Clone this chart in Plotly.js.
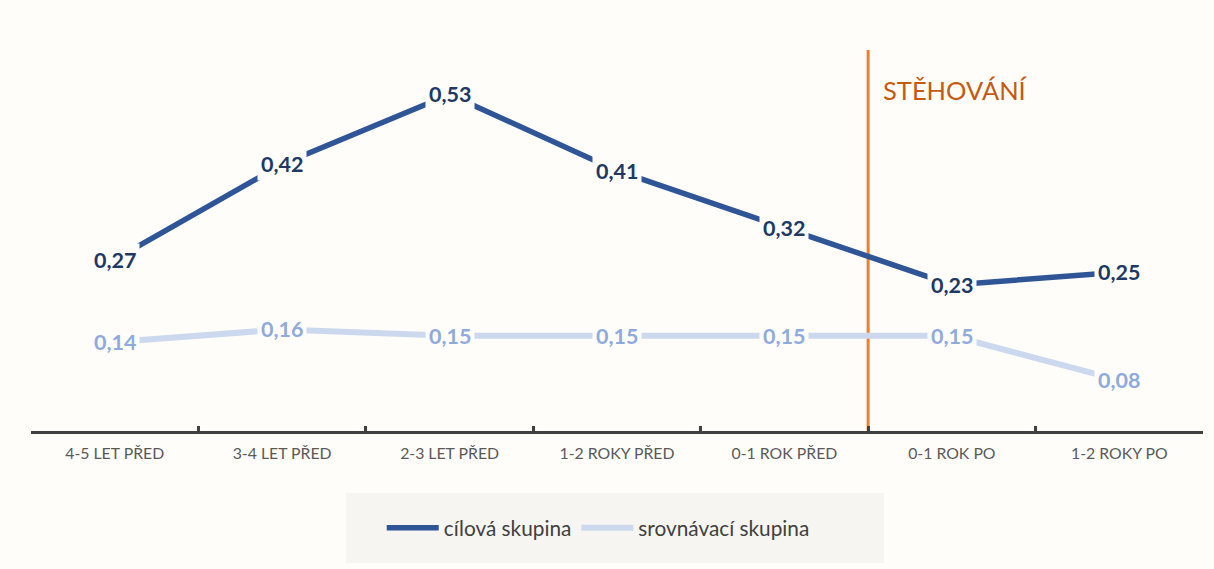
<!DOCTYPE html>
<html>
<head>
<meta charset="utf-8">
<script src="https://cdn.plot.ly/plotly-3.0.1.min.js"></script>
<style>html,body{margin:0;padding:0;background:#fefdf9;}#chart{width:1214px;height:569px;}</style>
</head>
<body>
<div id="chart"></div>
<script>
const categories = ["4-5 LET PŘED", "3-4 LET PŘED", "2-3 LET PŘED", "1-2 ROKY PŘED", "0-1 ROK PŘED", "0-1 ROK PO", "1-2 ROKY PO"];
const target = [0.27, 0.42, 0.53, 0.41, 0.32, 0.23, 0.25];
const comparison = [0.14, 0.16, 0.15, 0.15, 0.15, 0.15, 0.08];
const seriesNames = ["cílová skupina", "srovnávací skupina"];
const eventLabel = "STĚHOVÁNÍ";
const eventPosition = 4.5; // boundary between "0-1 ROK PŘED" and "0-1 ROK PO"

const BG = "#fefdf9";
const FONT = "Lato, 'Open Sans', sans-serif";
const fmt = v => v.toFixed(2).replace(".", ",");

const traces = [
  {x: categories, y: target, name: seriesNames[0], type: "scatter", mode: "lines",
   line: {color: "#2f5597", width: 5.5}, hoverinfo: "skip"},
  {x: categories, y: comparison, name: seriesNames[1], type: "scatter", mode: "lines",
   line: {color: "#cbd8ee", width: 6}, hoverinfo: "skip"}
];

const annotations = [];
target.forEach((v, i) => annotations.push({
  x: categories[i], y: v, xref: "x", yref: "y", text: "<b>" + fmt(v) + "</b>", showarrow: false,
  font: {family: FONT, size: 21.5, color: "#203864"}, bgcolor: BG, borderpad: 3
}));
comparison.forEach((v, i) => annotations.push({
  x: categories[i], y: v, xref: "x", yref: "y", text: "<b>" + fmt(v) + "</b>", showarrow: false,
  font: {family: FONT, size: 21.5, color: "#8faadc"}, bgcolor: BG, borderpad: 3
}));
annotations.push({
  x: eventPosition, xref: "x", y: 0.895, yref: "paper", yanchor: "middle", text: eventLabel, showarrow: false,
  xanchor: "left", xshift: 13, font: {family: FONT, size: 25.5, color: "#c55a11"}
});

const layout = {
  width: 1214, height: 569,
  paper_bgcolor: BG, plot_bgcolor: BG,
  margin: {l: 31, r: 11, t: 50, b: 138},
  font: {family: FONT},
  showlegend: true,
  legend: {orientation: "h", x: 0.484, xanchor: "center", y: -0.255, yanchor: "middle",
           bgcolor: "rgba(0,0,0,0)", font: {family: FONT, size: 20.8, color: "#404040"},
           itemwidth: 52, traceorder: "normal"},
  xaxis: {type: "category", range: [-0.5, 6.5], showline: true, linecolor: "#404040", linewidth: 3,
          ticks: "inside", tickson: "boundaries", ticklen: 5, tickwidth: 3, tickcolor: "#404040",
          showgrid: false, zeroline: false, fixedrange: true, ticklabelstandoff: 6,
          tickfont: {family: FONT, size: 15.8, color: "#595959"}},
  yaxis: {range: [0, 0.6], visible: false, showgrid: false, zeroline: false, fixedrange: true},
  shapes: [
    {type: "rect", xref: "paper", yref: "paper", x0: 0.2688, x1: 0.7278, y0: -0.3465, y1: -0.1627,
     fillcolor: "#f6f5f2", line: {width: 0}, layer: "below"},
    {type: "line", xref: "x", yref: "paper", x0: eventPosition, x1: eventPosition, y0: 0, y1: 1,
     line: {color: "#ed7d31", width: 3}, layer: "below"}
  ],
  annotations: annotations
};

Plotly.newPlot("chart", traces, layout, {displayModeBar: false, staticPlot: true});
</script>
</body>
</html>
